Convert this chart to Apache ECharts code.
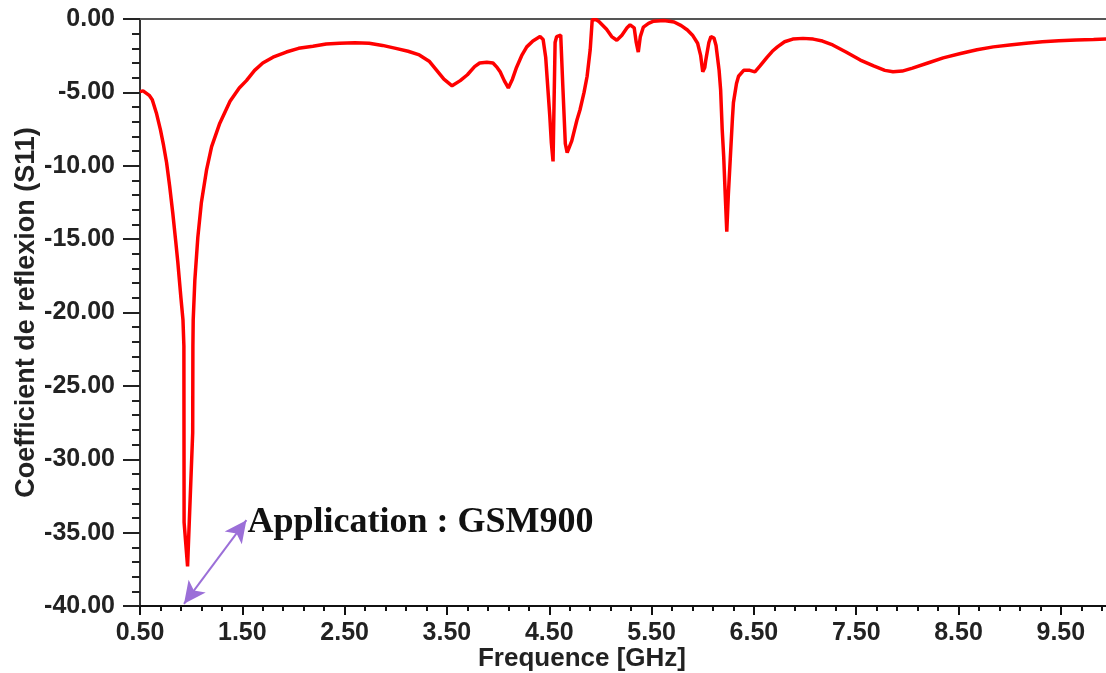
<!DOCTYPE html>
<html>
<head>
<meta charset="utf-8">
<script src="https://cdn.jsdelivr.net/npm/echarts@6/dist/echarts.min.js"></script>
<style>
html,body{margin:0;padding:0;background:#fff;}
#chart{width:1106px;height:673px;}
</style>
</head>
<body>
<div id="chart"></div>
<script>
// Frequency (GHz)
const freq = [
  0.50,0.53,0.56,0.59,0.62,0.66,0.70,0.73,0.76,0.79,0.82,0.85,0.87,0.90,0.92,0.929,
  0.931,0.965,1.015,1.017,1.02,1.036,1.065,1.10,1.15,1.20,1.28,1.38,1.47,1.54,
  1.62,1.70,1.80,1.93,2.05,2.19,2.32,2.45,2.60,2.74,2.87,3.00,3.12,3.23,3.33,3.40,
  3.47,3.55,3.63,3.70,3.77,3.82,3.89,3.95,3.99,4.02,4.06,4.10,4.14,4.18,4.23,4.28,
  4.34,4.41,4.44,4.465,4.485,4.505,4.52,4.537,4.557,4.572,4.612,4.632,4.657,4.675,4.72,4.77,
  4.80,4.84,4.87,4.90,4.92,4.96,4.99,5.06,5.11,5.16,5.21,5.26,5.29,5.33,5.35,5.37,
  5.39,5.42,5.47,5.52,5.62,5.72,5.79,5.85,5.90,5.95,5.98,6.00,6.02,6.03,6.06,6.08,
  6.11,6.13,6.16,6.175,6.19,6.205,6.22,6.235,6.25,6.27,6.29,6.30,6.33,6.35,6.40,6.46,
  6.51,6.56,6.63,6.68,6.73,6.80,6.88,6.98,7.08,7.17,7.27,7.40,7.54,7.67,7.78,7.86,
  7.95,8.05,8.20,8.35,8.52,8.68,8.84,9.00,9.16,9.32,9.48,9.65,9.82,10.00
];
// Return loss S11 (dB)
const s11 = [
  -4.95,-4.90,-5.05,-5.20,-5.50,-6.40,-7.55,-8.60,-9.80,-11.40,-13.20,-15.20,-16.60,-19.00,-20.50,-22.30,
  -34.30,-37.30,-28.20,-22.30,-20.50,-17.80,-14.90,-12.50,-10.30,-8.70,-7.10,-5.60,-4.70,-4.20,
  -3.50,-3.00,-2.60,-2.25,-2.00,-1.85,-1.70,-1.65,-1.62,-1.65,-1.80,-2.00,-2.20,-2.45,-2.90,-3.50,
  -4.10,-4.55,-4.20,-3.80,-3.25,-3.00,-2.95,-3.00,-3.30,-3.60,-4.20,-4.70,-4.10,-3.30,-2.50,-1.90,
  -1.50,-1.20,-1.40,-2.60,-4.60,-6.60,-8.40,-9.70,-1.60,-1.20,-1.10,-4.50,-8.50,-9.10,-8.30,-6.90,
  -6.20,-5.00,-3.90,-2.10,-0.05,-0.05,-0.20,-0.70,-1.20,-1.45,-1.10,-0.60,-0.40,-0.60,-1.60,-2.25,
  -1.20,-0.55,-0.30,-0.15,-0.10,-0.20,-0.45,-0.75,-1.10,-1.65,-2.50,-3.60,-3.30,-2.80,-1.60,-1.20,
  -1.30,-1.80,-3.50,-4.85,-7.50,-9.40,-12.00,-14.50,-12.00,-9.40,-6.80,-5.70,-4.40,-3.90,-3.50,-3.50,
  -3.60,-3.20,-2.60,-2.20,-1.90,-1.55,-1.37,-1.32,-1.37,-1.50,-1.77,-2.25,-2.80,-3.20,-3.50,-3.60,
  -3.55,-3.35,-3.00,-2.65,-2.35,-2.10,-1.90,-1.77,-1.65,-1.55,-1.48,-1.43,-1.40,-1.35
];
// Axis settings
const xMin = 0.5, xMax = 10, xStep = 1;
const yMin = -40, yMax = 0, yStep = 5;
const xTitle = 'Frequence [GHz]';
const yTitle = 'Coefficient de reflexion (S11)';
const annotation = 'Application : GSM900';
const arrowFrom = [0.93, -39.85];
const arrowTo = [1.54, -34.15];
const labelAt = [1.55, -34.3];

const seriesData = freq.map((f, i) => [f, s11[i]]);
const sans = '"Liberation Sans", Arial, sans-serif';
const chart = echarts.init(document.getElementById('chart'), null, {renderer: 'canvas'});
chart.setOption({
  backgroundColor: '#ffffff',
  animation: false,
  grid: {left: 140, right: -6, top: 19, bottom: 67, containLabel: false, outerBoundsMode: 'none'},
  xAxis: [{
    type: 'value', min: xMin, max: xMax, interval: xStep, position: 'bottom',
    axisLine: {show: true, onZero: false, lineStyle: {color: '#111', width: 2}},
    axisTick: {show: true, length: 9, lineStyle: {color: '#111', width: 2}},
    minorTick: {show: true, splitNumber: 5, length: 5, lineStyle: {color: '#111', width: 2}},
    splitLine: {show: false},
    axisLabel: {formatter: v => v.toFixed(2), fontFamily: sans, fontWeight: 'bold', fontSize: 25,
      color: '#222', margin: 15, showMaxLabel: false},
    name: xTitle, nameLocation: 'middle', nameGap: 40, nameMoveOverlap: false,
    nameTextStyle: {fontFamily: sans, fontWeight: 'bold', fontSize: 26, color: '#222', padding: [0, 88, 0, 0]}
  }, {
    type: 'value', min: xMin, max: xMax, position: 'top',
    axisLine: {show: true, onZero: false, lineStyle: {color: '#555', width: 2}},
    axisTick: {show: false}, axisLabel: {show: false}, splitLine: {show: false}
  }],
  yAxis: {
    type: 'value', min: yMin, max: yMax, interval: yStep,
    axisLine: {show: true, onZero: false, lineStyle: {color: '#333', width: 2}},
    axisTick: {show: true, length: 17, lineStyle: {color: '#222', width: 2}},
    minorTick: {show: true, splitNumber: 5, length: 8, lineStyle: {color: '#222', width: 2}},
    splitLine: {show: false},
    axisLabel: {formatter: v => v.toFixed(2), fontFamily: sans, fontWeight: 'bold', fontSize: 25,
      color: '#222', margin: 25},
    name: yTitle, nameLocation: 'middle', nameGap: 100, nameRotate: 90, nameMoveOverlap: false,
    nameTextStyle: {fontFamily: sans, fontWeight: 'bold', fontSize: 27, color: '#222'}
  },
  series: [{
    type: 'line', data: seriesData, xAxisIndex: 0, showSymbol: false, symbol: 'none',
    lineStyle: {color: '#ff0000', width: 3.5}, clip: true,
    markLine: {
      silent: true, symbol: ['arrow', 'arrow'], symbolSize: [16, 22],
      lineStyle: {color: '#9b6fd8', width: 2, type: 'solid'},
      label: {show: false},
      data: [[{coord: arrowFrom}, {coord: arrowTo}]]
    },
    markPoint: {
      silent: true, symbol: 'circle', symbolSize: 0,
      label: {show: true, position: 'right', distance: 0, formatter: annotation,
        fontFamily: '"Liberation Serif", "Times New Roman", serif', fontWeight: 'bold',
        fontSize: 36, color: '#111'},
      data: [{coord: labelAt}]
    }
  }]
});
</script>
</body>
</html>
